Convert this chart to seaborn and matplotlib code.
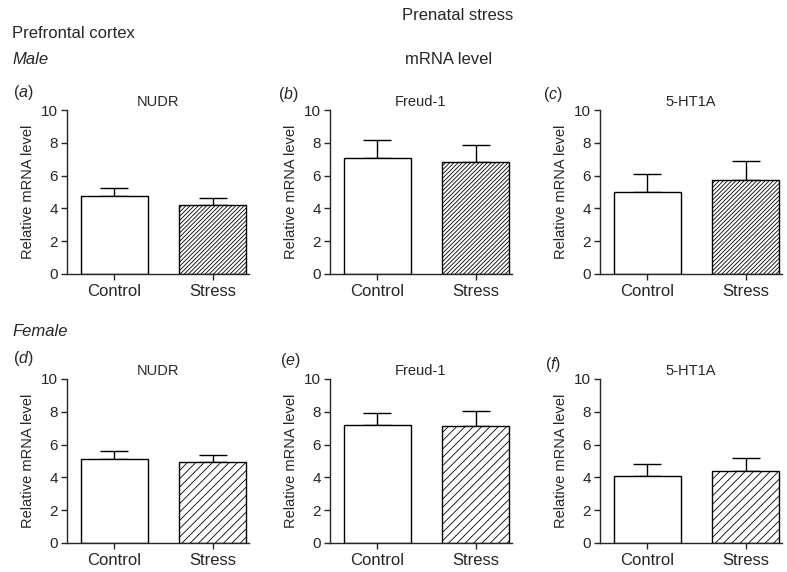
import numpy as np
import pandas as pd
import seaborn as sns
import matplotlib
matplotlib.use("Agg")
import matplotlib.pyplot as plt

# values (mean and upper error, relative mRNA level)
genes = ["NUDR", "Freud-1", "5-HT1A"]
groups = ["Control", "Stress"]
male_means = [[4.78, 4.18], [7.06, 6.82], [5.00, 5.75]]
male_err = [[0.47, 0.47], [1.10, 1.02], [1.09, 1.12]]
female_means = [[5.11, 4.93], [7.21, 7.15], [4.08, 4.42]]
female_err = [[0.47, 0.45], [0.70, 0.90], [0.73, 0.76]]
panel_labels = [["a", "b", "c"], ["d", "e", "f"]]

sns.set_style("ticks")
plt.rcParams['font.family'] = ['Liberation Sans', 'DejaVu Sans']
plt.rcParams['mathtext.fontset'] = 'custom'
plt.rcParams['mathtext.rm'] = 'Liberation Sans'
plt.rcParams['mathtext.it'] = 'Liberation Sans:italic'
plt.rcParams['hatch.linewidth'] = 0.6

W, H = 787, 572
fig = plt.figure(figsize=(W / 100, H / 100), dpi=100)

def fx(px):
    return px / W

def fy(py):
    return 1 - py / H

lefts = [67, 330, 600]
row_top = [110, 379]
row_bottom = [274, 543]
ax_w = 182
hatches = ["////////", "////"]

for r, (means, errs) in enumerate([(male_means, male_err), (female_means, female_err)]):
    for c, gene in enumerate(genes):
        ax = fig.add_axes([fx(lefts[c]), fy(row_bottom[r]), ax_w / W,
                           (row_bottom[r] - row_top[r]) / H])
        df = pd.DataFrame({"group": groups, "value": means[c]})
        sns.barplot(data=df, x="group", y="value", color="white", edgecolor="black",
                    linewidth=1.0, width=0.68, errorbar=None, ax=ax)
        ax.patches[1].set_hatch(hatches[r])
        ax.errorbar([0, 1], means[c], yerr=[[0, 0], errs[c]], fmt="none",
                    ecolor="black", elinewidth=1.0, capsize=10, capthick=1.0, zorder=0)
        ax.set_ylim(0, 10)
        ax.set_yticks([0, 2, 4, 6, 8, 10])
        ax.set_xlim(-0.48, 1.37)
        ax.set_xlabel("")
        ax.set_ylabel("Relative mRNA level", fontsize=10.5, labelpad=4)
        ax.set_title(gene, fontsize=10.5, pad=3)
        ax.tick_params(axis="y", labelsize=11, length=4.5, width=1, pad=2)
        ax.tick_params(axis="x", labelsize=12, length=4.5, width=1, pad=3)
        for s in ["left", "bottom"]:
            ax.spines[s].set_linewidth(1.0)
        sns.despine(ax=ax)

# panel letters
label_pos = [[(13, 92), (278, 94), (543, 94)], [(13, 359), (280, 361), (545, 364)]]
for r in range(2):
    for c in range(3):
        x, y = label_pos[r][c]
        fig.text(fx(x), fy(y), r"($\it{" + panel_labels[r][c] + "}$)", fontsize=11.5,
                 va="center", ha="left")

fig.text(fx(402), fy(16), "Prenatal stress", fontsize=12, va="center", ha="left")
fig.text(fx(12), fy(33), "Prefrontal cortex", fontsize=12, va="center", ha="left")
fig.text(fx(12), fy(59), "Male", fontsize=12, style="italic", va="center", ha="left")
fig.text(fx(405), fy(59), "mRNA level", fontsize=12, va="center", ha="left")
fig.text(fx(12), fy(331), "Female", fontsize=12, style="italic", va="center", ha="left")

fig.savefig("out.png", dpi=100)
